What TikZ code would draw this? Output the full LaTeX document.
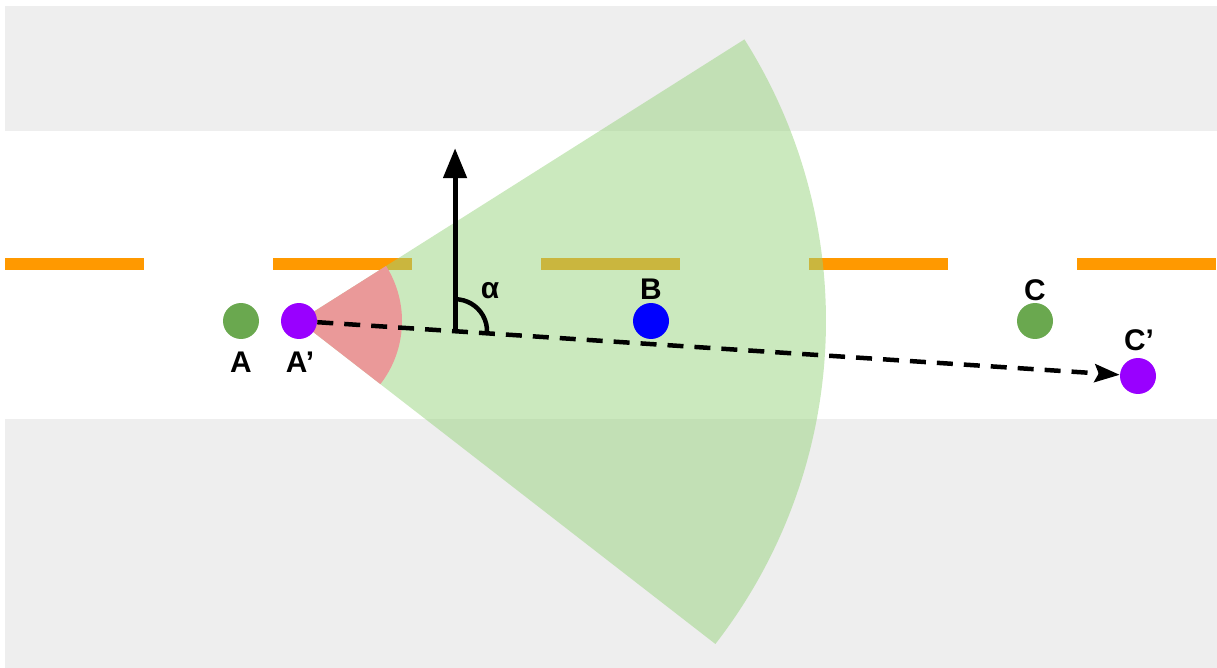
\documentclass[tikz,border=0pt]{standalone}
\usepackage{fontspec}
\setmainfont{Liberation Sans}
\usetikzlibrary{arrows.meta,calc}
\definecolor{roadgray}{RGB}{238,238,238}
\definecolor{laneorange}{RGB}{255,153,0}
\definecolor{fovgreen}{RGB}{151,212,125}
\definecolor{fovred}{RGB}{234,153,153}
\definecolor{cargreen}{RGB}{106,168,79}
\definecolor{carpurple}{RGB}{153,0,255}
\definecolor{carblue}{RGB}{0,0,255}
\begin{document}
\begin{tikzpicture}[
  x=0.02cm, y=-0.02cm,
  car/.style={circle, minimum size=0.72cm, inner sep=0pt},
  lane/.style={laneorange, line width=0.24cm},
  lbl/.style={font=\fontsize{17}{19}\selectfont\bfseries},
  traj/.style={line width=0.09cm, dash pattern=on 0.32cm off 0.22cm, -{Stealth[length=5mm,width=3.6mm,inset=0.8mm]}}
]
\useasboundingbox (0,0) rectangle (1217,668);
% road
\fill[roadgray] (5,6) rectangle (1217,131);
\fill[roadgray] (5,419) rectangle (1217,668);
\foreach \x in {5,273,541,809,1077}
  \draw[lane] (\x,264) -- ++(139,0);
% field of view
\coordinate (eye) at (299,321);
\fill[fovgreen, opacity=0.5] (eye) -- ++(-32.3:527) arc[start angle=-32.3, end angle=37.8, radius=527] -- cycle;
\fill[fovred] (eye) -- ++(-32.3:103) arc[start angle=-32.3, end angle=37.8, radius=103] -- cycle;
% vehicles
\node[car, fill=cargreen] (A) at (241,321) {};
\node[car, fill=carpurple] (Ap) at (eye) {};
\node[car, fill=carblue] (B) at (651,321) {};
\node[car, fill=cargreen] (C) at (1035,321) {};
\node[car, fill=carpurple] (Cp) at (1138,376) {};
\node[lbl] (labA) at (241,362) {A};
\node[lbl] (labAp) at (300,362) {A’};
\node[lbl] (labB) at (651,289) {B};
\node[lbl] (labC) at (1035,290) {C};
\node[lbl] (labCp) at (1139,340) {C’};
% heading and angle
\draw[traj] (Ap) -- (Cp);
\coordinate (base) at ($(Ap.center)!0.186!(Cp.center)$);
\draw[line width=0.1cm, -{Triangle[length=6mm,width=4.6mm]}] (base) -- ++(0,-183) coordinate (head);
\draw[line width=0.09cm] ([shift={(-90:32)}]base) arc[start angle=-90, end angle=3.75, radius=32];
\node[lbl] (alpha) at (490,291) {α};
\end{tikzpicture}
\end{document}
